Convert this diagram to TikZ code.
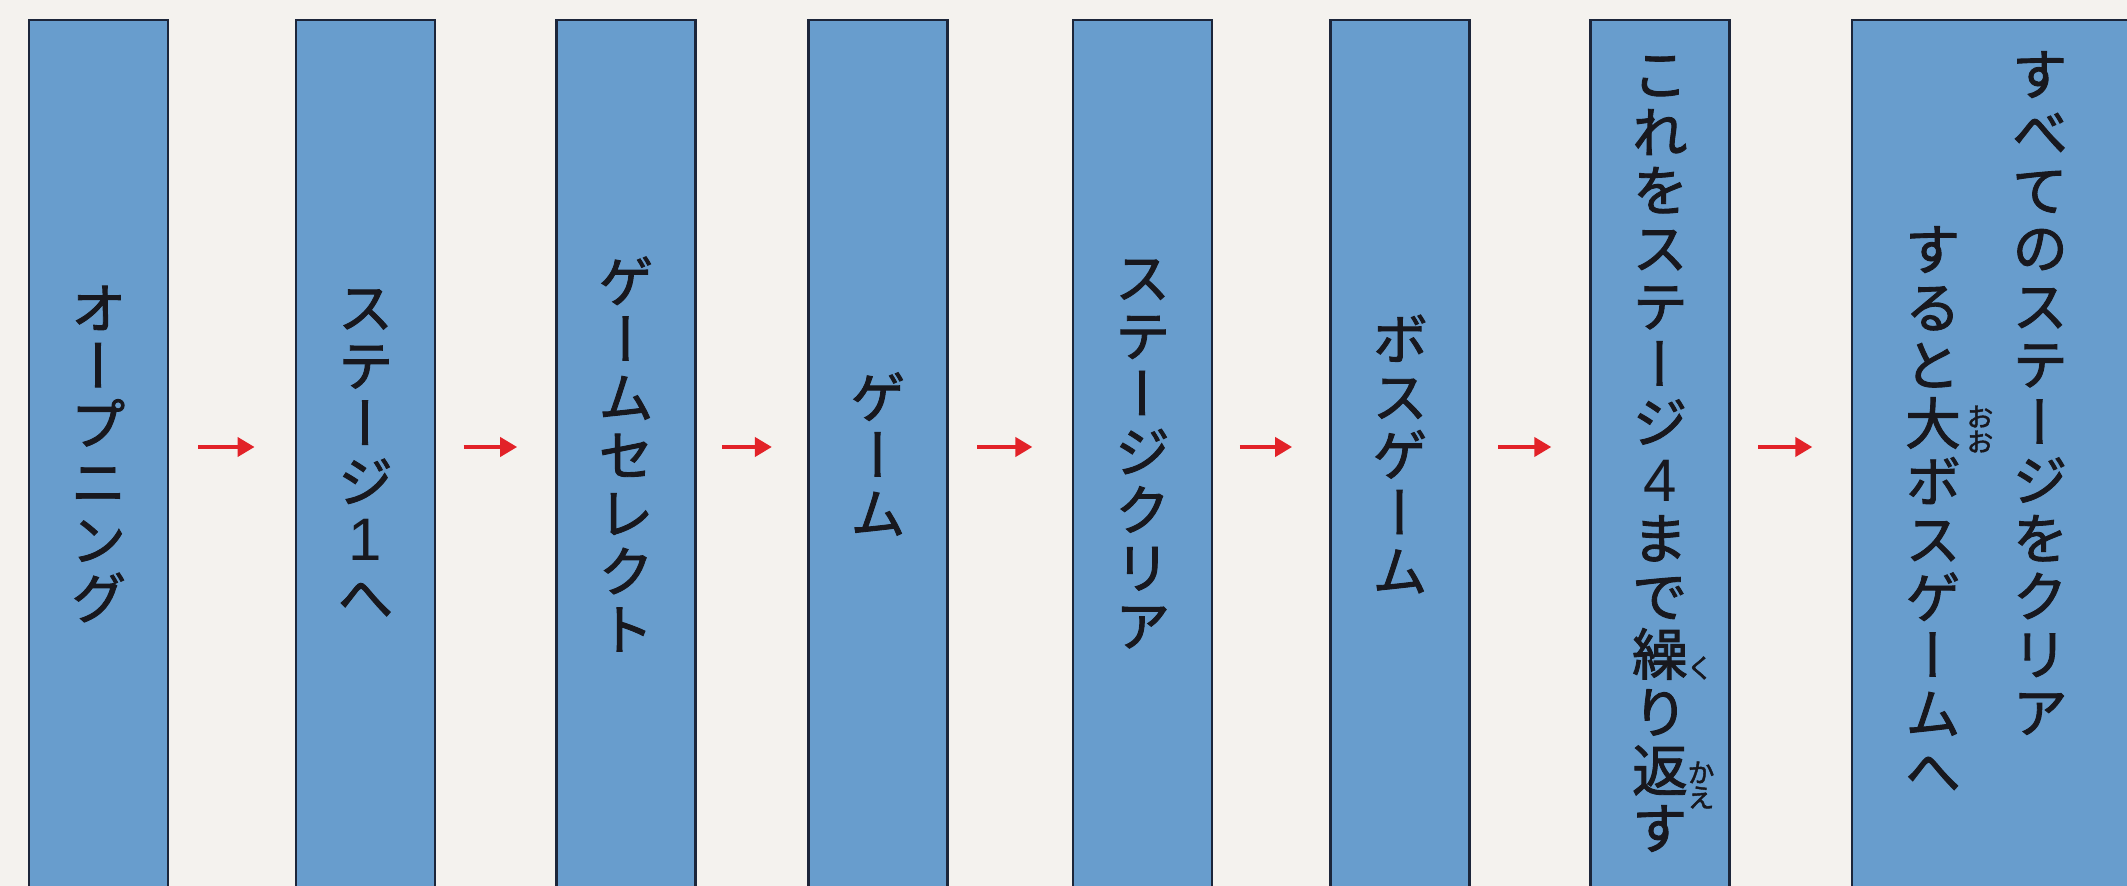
\documentclass[tikz,border=0pt]{standalone}
\usepackage{fontspec}
\usepackage{tikz}
\usetikzlibrary{arrows.meta,calc}
\newfontfamily\jpfont[RawFeature={+vert;embolden=1.6}]{Noto Sans CJK JP}
\newfontfamily\numfont{Liberation Sans}
\newcommand{\tatefont}{\jpfont\fontsize{28}{29}\selectfont}
\newcommand{\rubyfont}{\jpfont\fontsize{13.5}{12.5}\selectfont}
\newcommand{\digit}[1]{{\numfont\fontsize{30}{29}\selectfont #1}}
\definecolor{paper}{RGB}{244,242,238}
\definecolor{boxblue}{RGB}{104,157,205}
\definecolor{boxline}{RGB}{28,38,58}
\definecolor{ink}{RGB}{24,24,30}
\definecolor{arrowred}{RGB}{226,34,40}

\begin{document}
\begin{tikzpicture}[x=0.5pt, y=-0.5pt,
    stage/.style={draw=boxline, fill=boxblue, line width=1.3pt, minimum width=69.5pt,
      minimum height=434pt, inner sep=0pt, align=center, text=ink, font=\tatefont},
    col/.style={inner sep=0pt, align=center, text=ink, font=\tatefont},
    ruby/.style={inner sep=0pt, align=center, text=ink, font=\rubyfont},
    flow/.style={draw=arrowred, line width=2pt, -{Triangle[length=8.5pt, width=9.5pt]}}]
  \fill[paper] (0, 0) rectangle (2127, 886);
  \clip (0, 0) rectangle (2127, 886);
  \node[stage] (op) at (98.5, 454) {オ\\ー\\プ\\ニ\\ン\\グ};
  \node[stage] (st1) at (365.5, 454) {ス\\テ\\ー\\ジ\\\digit{1}\\へ};
  \node[stage] (sel) at (626, 454) {ゲ\\ー\\ム\\セ\\レ\\ク\\ト};
  \node[stage] (game) at (878, 454) {ゲ\\ー\\ム};
  \node[stage] (clr) at (1142.5, 454) {ス\\テ\\ー\\ジ\\ク\\リ\\ア};
  \node[stage] (boss) at (1400, 454) {ボ\\ス\\ゲ\\ー\\ム};
  \node[stage] (rep) at (1660, 454) {こ\\れ\\を\\ス\\テ\\ー\\ジ\\\digit{4}\\ま\\で\\繰\\り\\返\\す};
  \node[ruby] (ku) at (1700, 668) {く};
  \node[ruby] (kae) at (1701, 785) {か\\え};
  \node[stage, minimum width=144pt] (fin) at (1996, 454) {};
  \node[col, anchor=north] (allclr) at (2040, 51) {す\\べ\\て\\の\\ス\\テ\\ー\\ジ\\を\\ク\\リ\\ア};
  \node[col, anchor=north] (bigboss) at (1933, 226) {す\\る\\と\\大\\ボ\\ス\\ゲ\\ー\\ム\\へ};
  \node[ruby] (oo) at (1980, 429) {お\\お};
  \draw[flow] ($(op.east)!.23!(st1.west)+(0,-7)$) -- ($(op.east)!.68!(st1.west)+(0,-7)$);
  \draw[flow] ($(st1.east)!.23!(sel.west)+(0,-7)$) -- ($(st1.east)!.68!(sel.west)+(0,-7)$);
  \draw[flow] ($(sel.east)!.23!(game.west)+(0,-7)$) -- ($(sel.east)!.68!(game.west)+(0,-7)$);
  \draw[flow] ($(game.east)!.23!(clr.west)+(0,-7)$) -- ($(game.east)!.68!(clr.west)+(0,-7)$);
  \draw[flow] ($(clr.east)!.23!(boss.west)+(0,-7)$) -- ($(clr.east)!.68!(boss.west)+(0,-7)$);
  \draw[flow] ($(boss.east)!.23!(rep.west)+(0,-7)$) -- ($(boss.east)!.68!(rep.west)+(0,-7)$);
  \draw[flow] ($(rep.east)!.23!(fin.west)+(0,-7)$) -- ($(rep.east)!.68!(fin.west)+(0,-7)$);
\end{tikzpicture}
\end{document}
